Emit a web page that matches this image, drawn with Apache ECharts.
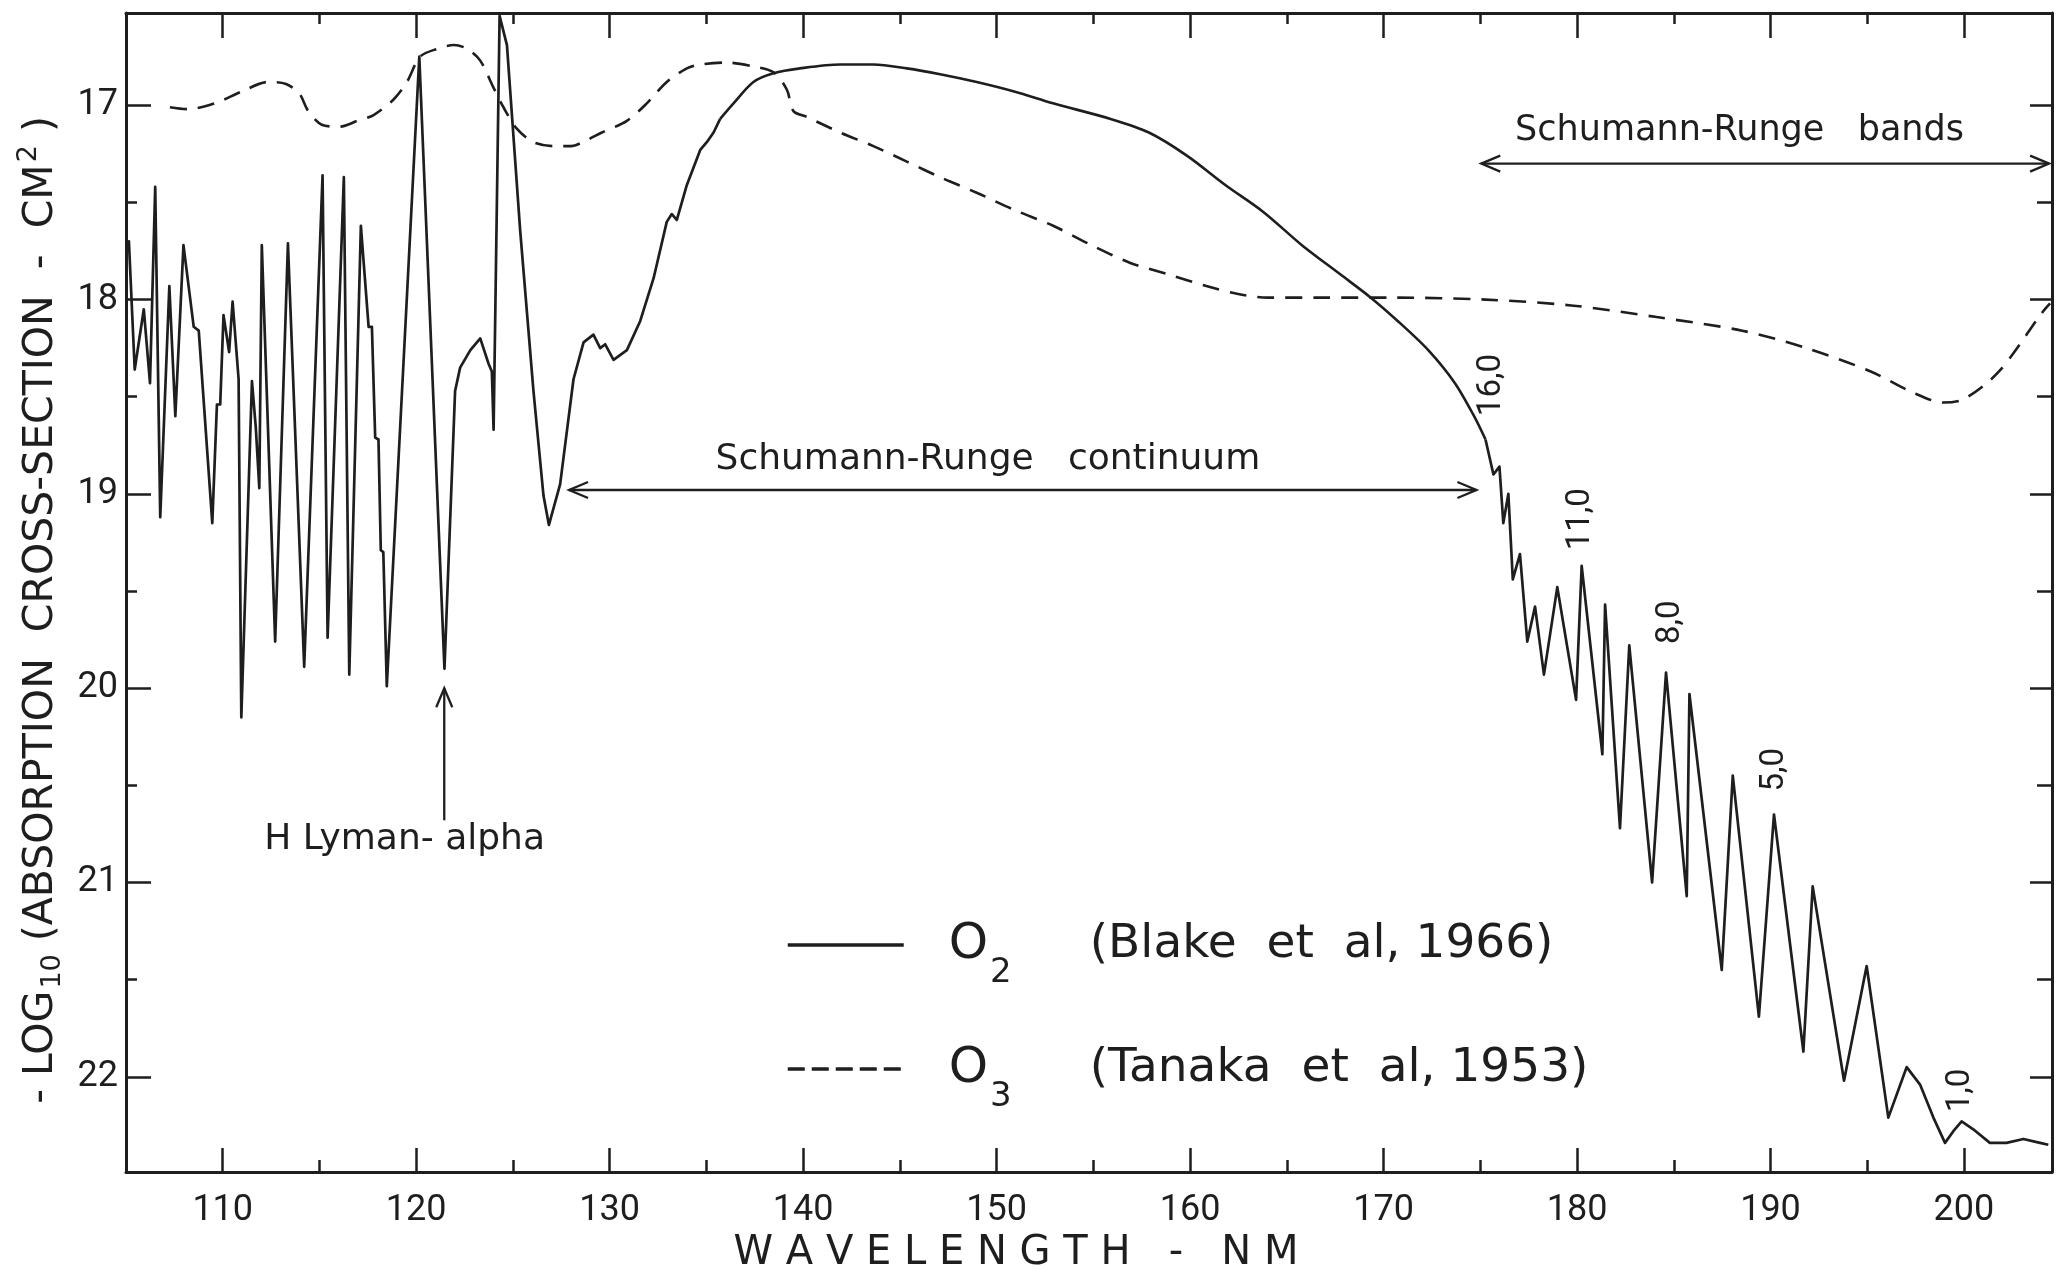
<!DOCTYPE html>
<html><head><meta charset="utf-8">
<script src="https://cdn.jsdelivr.net/npm/echarts@6/dist/echarts.min.js"></script>
<style>html,body{margin:0;padding:0;background:#fff}#c{width:2071px;height:1270px}</style>
</head><body><div id="c"></div>
<script>
// ---- data ----
const o2Wavelength = [105.05,105.15,105.45,105.92,106.24,106.51,106.77,107.24,107.55,107.97,108.50,108.76,109.46,109.70,109.87,110.04,110.33,110.51,110.82,110.96,111.51,111.71,111.89,112.02,112.71,113.37,114.21,115.16,115.42,116.26,116.54,117.14,117.54,117.71,117.88,118.05,118.17,118.30,118.48,120.16,121.46,122.01,122.27,122.80,123.31,123.74,123.91,124.00,124.31,124.69,125.37,126.06,126.58,126.86,127.44,128.13,128.65,129.16,129.51,129.77,130.20,130.89,131.58,132.27,132.95,133.21,133.47,133.99,134.68,135.02,135.37,135.71,136.40,137.43,138.47,139.84,141.91,143.63,145.36,147.08,148.97,150.95,152.92,155.89,157.87,159.85,161.82,163.80,165.78,167.76,169.34,170.73,172.31,173.69,174.68,175.27,175.68,175.99,176.19,176.45,176.68,177.05,177.43,177.83,178.29,178.98,179.95,180.24,181.31,181.45,182.22,182.70,183.88,184.60,185.67,185.81,187.48,188.05,189.40,190.18,191.70,192.18,193.80,194.97,196.09,197.04,197.73,198.42,199.02,199.45,199.88,200.48,201.34,202.20,203.07,203.93,204.36];
const o2LogSigma = [17.72,17.70,18.36,18.05,18.43,17.42,19.12,17.93,18.60,17.72,18.14,18.16,19.15,18.54,18.54,18.08,18.27,18.01,18.41,20.15,18.42,18.66,18.97,17.72,19.76,17.71,19.89,17.36,19.74,17.37,19.93,17.62,18.14,18.14,18.71,18.72,19.29,19.30,19.99,16.75,19.90,18.47,18.35,18.26,18.20,18.33,18.37,18.67,16.54,16.69,17.64,18.47,19.01,19.16,18.95,18.41,18.22,18.18,18.25,18.23,18.31,18.26,18.11,17.89,17.60,17.56,17.59,17.41,17.23,17.19,17.14,17.07,16.99,16.88,16.835,16.81,16.79,16.79,16.81,16.84,16.88,16.93,16.99,17.07,17.14,17.26,17.41,17.55,17.72,17.87,17.99,18.11,18.26,18.43,18.60,18.72,18.90,18.86,19.15,19.00,19.44,19.31,19.76,19.58,19.93,19.48,20.06,19.37,20.34,19.57,20.72,19.78,21.00,19.92,21.07,20.03,21.45,20.45,21.69,20.65,21.87,21.02,22.02,21.43,22.21,21.95,22.04,22.21,22.34,22.28,22.23,22.27,22.34,22.34,22.32,22.34,22.35];
const o3Wavelength = [107.27,108.19,109.58,110.96,112.35,113.27,113.96,114.42,115.12,116.04,116.96,117.80,118.83,119.52,120.20,121.07,121.95,122.65,123.31,124.00,124.51,125.20,126.06,127.10,128.00,128.80,129.60,130.89,131.92,132.95,133.99,134.68,136.06,137.43,138.47,139.16,139.50,140.19,141.91,143.63,145.36,147.08,148.97,150.95,152.92,154.90,156.88,158.86,160.84,162.42,164.00,166.77,170.70,175.28,179.70,184.12,188.54,191.86,195.18,197.39,198.94,200.04,201.81,204.02,204.45];
const o3LogSigma = [17.01,17.02,16.99,16.93,16.88,16.89,16.94,17.03,17.10,17.11,17.08,17.05,16.97,16.88,16.75,16.71,16.69,16.71,16.77,16.91,17.01,17.12,17.19,17.21,17.21,17.18,17.14,17.08,16.99,16.88,16.81,16.79,16.78,16.80,16.83,16.92,17.03,17.06,17.14,17.21,17.29,17.37,17.45,17.54,17.62,17.72,17.81,17.87,17.93,17.97,17.99,17.99,17.99,18.00,18.03,18.09,18.16,18.25,18.37,18.48,18.53,18.51,18.37,18.07,18.02];
const xMajorTicks = [110,120,130,140,150,160,170,180,190,200];
const xMinorTicks = [115,125,135,145,155,165,175,185,195];
const yMajorTicks = [17,18,19,20,21,22];
const yMinorTicks = [17.5,18.5,19.5,20.5,21.5];
const bandLabels = ['16,0','11,0','8,0','5,0','1,0'];
const bandLabelAt = [[175.6,18.44],[180.19,19.13],[184.83,19.66],[190.23,20.42],[199.83,22.07]];

// ---- chart ----
const INK = '#1e1e1e';
const XMIN = 105.0, XMAX = 204.55, YMIN = 16.525, YMAX = 22.49;
const chart = echarts.init(document.getElementById('c'), null, {renderer:'canvas'});
const o2Data = o2Wavelength.map((w,i)=>[w,o2LogSigma[i]]);
const o3Data = o3Wavelength.map((w,i)=>[w,o3LogSigma[i]]);
// the smooth continuum part of the O2 curve is drawn smoothed, the spiky parts straight
const iC0 = o2Wavelength.indexOf(135.71), iC1 = o2Wavelength.indexOf(175.27);
const lab = {color:INK, fontFamily:'Roboto', fontSize:36};
function xAx(pos, ticks, len, line, labels){
  return {type:'value', min:XMIN, max:XMAX, position:pos,
    axisLine: line ? {show:true, onZero:false, lineStyle:{color:INK,width:3}} : {show:false},
    splitLine:{show:false},
    axisTick:{show:true, inside:true, length:len, customValues:ticks, lineStyle:{color:INK,width:2.5}},
    axisLabel: labels ? Object.assign({show:true, customValues:ticks, margin:21}, lab) : {show:false, customValues:ticks}
  };
}
function yAx(pos, ticks, len, line, labels){
  return {type:'value', min:YMIN, max:YMAX, inverse:true, position:pos,
    axisLine: line ? {show:true, onZero:false, lineStyle:{color:INK,width:3}} : {show:false},
    splitLine:{show:false},
    axisTick:{show:true, inside:true, length:len, customValues:ticks, lineStyle:{color:INK,width:2.5}},
    axisLabel: labels ? Object.assign({show:true, customValues:ticks, margin:8}, lab) : {show:false, customValues:ticks}
  };
}
const xAxes = [xAx('bottom', xMajorTicks, 24, true, true), xAx('bottom', xMinorTicks, 12, false, false),
               xAx('top', xMajorTicks, 25, true, false), xAx('top', xMinorTicks, 11, false, false)];
xAxes[0].name = 'W A V E L E N G T H   -   N M';
xAxes[0].nameLocation = 'middle';
xAxes[0].nameGap = 54;
xAxes[0].nameTextStyle = {color:INK, fontFamily:'DejaVu Sans', fontSize:40, padding:[0,146,0,0]};
const yAxes = [yAx('left', yMajorTicks, 25, true, true), yAx('left', yMinorTicks, 11, false, false),
               yAx('right', yMajorTicks, 22, true, false), yAx('right', yMinorTicks, 15, false, false)];
yAxes[0].name = '{t|- LOG}{sub|10}{t| (ABSORPTION  CROSS-SECTION  -  CM}{sup|2}{t| )}';
yAxes[0].nameLocation = 'middle';
yAxes[0].nameRotate = 90;
yAxes[0].nameGap = 52;
yAxes[0].nameTextStyle = {color:INK, fontFamily:'DejaVu Sans', fontSize:41, padding:[0,35,0,0],
  rich:{t:{fontSize:41, fontFamily:'DejaVu Sans', color:INK},
        sub:{fontSize:27, fontFamily:'DejaVu Sans', color:INK, padding:[24,0,0,2]},
        sup:{fontSize:27, fontFamily:'DejaVu Sans', color:INK, padding:[0,0,24,2]}}};

const legendRich = {
  o:{fontSize:50, fontFamily:'DejaVu Sans', color:INK, padding:[0,0,0,40]},
  s:{fontSize:34, fontFamily:'DejaVu Sans', color:INK, padding:[56,0,0,2]},
  r:{fontSize:47, fontFamily:'DejaVu Sans', color:INK, padding:[0,0,0,78]}};
function leg(item, top){
  return {orient:'vertical', left:781, top:top, itemWidth:116, itemHeight:14, selectedMode:false,
    lineStyle:{width:3.5}, itemStyle:{opacity:0}, data:[item],
    formatter: n => n==='O2' ? '{o|O}{s|2}{r|(Blake  et  al, 1966)}' : '{o|O}{s|3}{r|(Tanaka  et  al, 1953)}',
    textStyle:{color:INK, fontFamily:'DejaVu Sans', fontSize:47, rich:legendRich}};
}
const option = {
  animation:false, backgroundColor:'#fff',
  grid:{left:126, right:19, top:13, bottom:98, containLabel:false, outerBoundsMode:'none'},
  xAxis:xAxes, yAxis:yAxes,
  legend:[leg({name:'O2'}, 915), leg({name:'O3', lineStyle:{type:[17,7]}}, 1039)],
  series:[
    {type:'line', name:'O2', data:o2Data.slice(0, iC0+1), symbol:'none', smooth:false,
     lineStyle:{color:INK, width:2.7, join:'round'}, itemStyle:{color:INK}, z:3},
    {type:'line', name:'O2', data:o2Data.slice(iC0, iC1+1), symbol:'none', smooth:0.3,
     lineStyle:{color:INK, width:2.6, join:'round'}, itemStyle:{color:INK}, z:3},
    {type:'line', name:'O2', data:o2Data.slice(iC1), symbol:'none', smooth:false,
     lineStyle:{color:INK, width:2.7, join:'round'}, itemStyle:{color:INK}, z:3},
    {type:'line', name:'O3', data:o3Data, symbol:'none', smooth:0.3,
     lineStyle:{color:INK, width:2.6, type:[17,11]}, itemStyle:{color:INK}, z:2}
  ]
};
chart.setOption(option);

// ---- annotations (positions in data units, converted through the axes) ----
const P = (x,y) => chart.convertToPixel({xAxisIndex:0, yAxisIndex:0}, [x,y]);
const g = [];
const ST = {stroke:INK, lineWidth:2.3, fill:null};
function head(tip, dx, dy){ // open chevron pointing along (dx,dy)
  const L = 19, W = 8;
  const bx = tip[0]-dx*L, by = tip[1]-dy*L;
  return {type:'polyline', shape:{points:[[bx-dy*W, by+dx*W],[tip[0],tip[1]],[bx+dy*W, by-dx*W]]}, style:ST, z:10};
}
function dblArrow(x1,x2,y){
  const a = P(x1,y), b = P(x2,y);
  g.push({type:'line', shape:{x1:a[0],y1:a[1],x2:b[0],y2:b[1]}, style:ST, z:10});
  g.push(head(a,-1,0)); g.push(head(b,1,0));
}
dblArrow(127.9, 174.8, 18.98);
dblArrow(175.05, 204.4, 17.30);
{ const a = P(121.45, 20.68), b = P(121.45, 20.0);
  g.push({type:'line', shape:{x1:a[0],y1:a[1],x2:b[0],y2:b[1]}, style:ST, z:10});
  g.push(head(b,0,-1)); }
function txt(s, at, size, rot, fam){
  const p = P(at[0], at[1]);
  g.push({type:'text', x:p[0], y:p[1], rotation:rot||0, z:10,
    style:{text:s, fill:INK, font:(size)+'px '+(fam||'"DejaVu Sans"'), align:'center', verticalAlign:'middle'}});
}
txt('Schumann-Runge   continuum', [149.55, 18.825], 36);
txt('Schumann-Runge   bands', [188.4, 17.13], 35);
txt('H Lyman- alpha', [119.4, 20.78], 36);
bandLabels.forEach((s,i)=>txt(s, bandLabelAt[i], 33, Math.PI/2, 'Roboto'));
chart.setOption({graphic:g});
</script></body></html>
